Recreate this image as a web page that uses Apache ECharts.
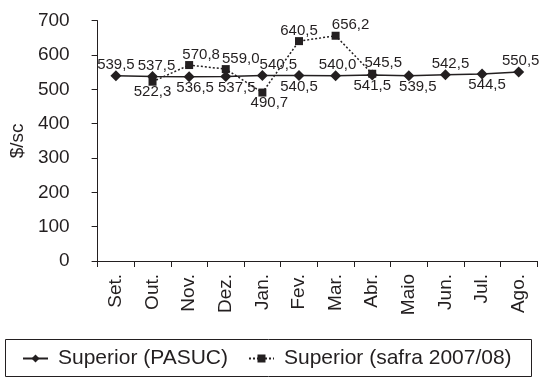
<!DOCTYPE html>
<html>
<head>
<meta charset="utf-8">
<script src="https://cdn.jsdelivr.net/npm/echarts@6/dist/echarts.min.js"></script>
<style>
html,body{margin:0;padding:0;background:#fff;}
#chart{width:546px;height:378px;}
</style>
</head>
<body>
<div id="chart"></div>
<script>
const categories = ['Set.', 'Out.', 'Nov.', 'Dez.', 'Jan.', 'Fev.', 'Mar.', 'Abr.', 'Maio', 'Jun.', 'Jul.', 'Ago.'];
const pasucValues = [539.5, 537.5, 536.5, 537.5, 540.5, 540.5, 540.0, 541.5, 539.5, 542.5, 544.5, 550.5];
const safraValues = [null, 522.3, 570.8, 559.0, 490.7, 640.5, 656.2, 545.5, null, null, null, null];
const yTicks = [0, 100, 200, 300, 400, 500, 600, 700];
const seriesNames = ['Superior (PASUC)', 'Superior (safra 2007/08)'];

const pasucLabelPos = ['top', 'top', 'bottom', 'bottom', 'top', 'bottom', 'top', 'bottom', 'bottom', 'top', 'bottom', 'top'];
const pasucLabelOffset = [[0,0],[4,0],[6,0],[11,0],[16,0],[0,0],[2,0],[0,0],[9,0],[5,0],[5,0],[2,0]];
const safraLabelPos = [null, 'bottom', 'top', 'top', 'bottom', 'top', 'top', 'top', null, null, null, null];
const safraLabelOffset = [[0,0],[0,0],[12,0],[15,0],[7,0],[0,0],[15,0],[11,0],[0,0],[0,0],[0,0],[0,0]];

const FONT = '"Liberation Sans", Arial, Helvetica, sans-serif';
const INK = '#231f20';
const fmt = v => v.toFixed(1).replace('.', ',');

const chart = echarts.init(document.getElementById('chart'), null, {renderer: 'canvas'});

const pasucData = pasucValues.map((v, i) => ({
  value: v,
  label: {position: pasucLabelPos[i], offset: pasucLabelOffset[i]}
}));
const safraData = safraValues.map((v, i) => v == null ? null : ({
  value: v,
  label: {position: safraLabelPos[i], offset: safraLabelOffset[i]}
}));

chart.setOption({
  animation: false,
  textStyle: {fontFamily: FONT, color: INK},
  grid: {left: 96, right: 9, top: 20.7, bottom: 117, containLabel: false},
  xAxis: {
    type: 'category',
    data: categories,
    boundaryGap: true,
    axisLine: {lineStyle: {color: INK, width: 1}},
    axisTick: {show: true, inside: false, length: 6, alignWithLabel: false, lineStyle: {color: INK}},
    axisLabel: {rotate: 90, margin: 13, fontSize: 19, color: INK, fontFamily: FONT, interval: 0},
    splitLine: {show: false}
  },
  yAxis: {
    type: 'value',
    min: yTicks[0],
    max: yTicks[yTicks.length - 1],
    interval: 100,
    name: '$/sc',
    nameLocation: 'middle',
    nameRotate: 90,
    nameGap: 62,
    nameTextStyle: {fontSize: 19, color: INK, fontFamily: FONT},
    axisLine: {show: true, lineStyle: {color: INK, width: 1}},
    axisTick: {show: true, inside: false, length: 6, lineStyle: {color: INK}},
    axisLabel: {margin: 28, fontSize: 19, color: INK, fontFamily: FONT},
    splitLine: {show: false}
  },
  legend: {
    left: 22,
    top: 348,
    padding: 0,
    itemGap: 20,
    itemWidth: 25,
    itemHeight: 10,
    textStyle: {fontSize: 21, color: INK, fontFamily: FONT, padding: [0, 0, 0, 5]},
    data: seriesNames
  },
  graphic: [{
    type: 'rect',
    shape: {x: 5.5, y: 339.5, width: 526, height: 37},
    style: {fill: 'none', stroke: INK, lineWidth: 1},
    silent: true
  }],
  series: [
    {
      name: seriesNames[0],
      type: 'line',
      data: pasucData,
      symbol: 'diamond',
      symbolSize: 11,
      itemStyle: {color: INK},
      lineStyle: {color: INK, width: 1.5, type: 'solid'},
      label: {show: true, fontSize: 15, color: INK, fontFamily: FONT, distance: -2, formatter: p => fmt(p.value)},
      z: 3
    },
    {
      name: seriesNames[1],
      type: 'line',
      data: safraData,
      connectNulls: false,
      symbol: 'rect',
      symbolSize: 8,
      itemStyle: {color: INK},
      lineStyle: {color: INK, width: 1.5, type: [2, 2]},
      label: {show: true, fontSize: 15, color: INK, fontFamily: FONT, distance: -1, formatter: p => fmt(p.value)},
      z: 2
    }
  ]
});
</script>
</body>
</html>
